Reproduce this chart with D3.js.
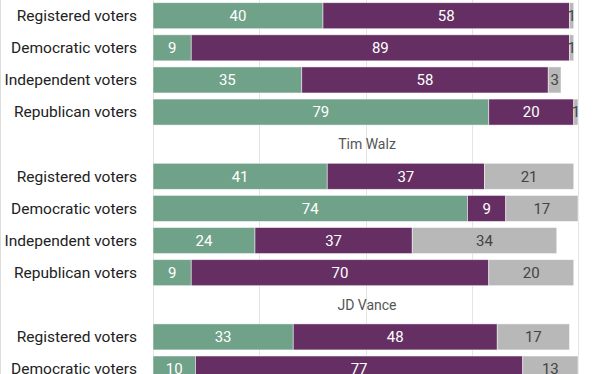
<!DOCTYPE html>
<html>
<head>
<meta charset="utf-8">
<script src="https://cdn.jsdelivr.net/npm/d3@7"></script>
<style>
  html, body { margin: 0; padding: 0; background: #fff; }
  svg { display: block; font-family: Roboto, "Noto Sans", sans-serif; }
</style>
</head>
<body>
<svg id="chart" width="612" height="374"></svg>
<script>
// voter groups, one row each inside a panel
const groups = ["Registered voters", "Democratic voters", "Independent voters", "Republican voters"];
// panel titles (the first one is cut off above the picture)
const panelTitles = ["", "Tim Walz", "JD Vance"];
// percent values, per panel, per group
const favorable = [[40, 9, 35, 79], [41, 74, 24, 9], [33, 10]];
const unfavorable = [[58, 89, 58, 20], [37, 9, 37, 70], [48, 77]];
const noOpinion = [[1, 1, 3, 1], [21, 17, 34, 20], [17, 13]];
const gridTicks = [0, 25, 50, 75, 100];

const colors = ["#6fa288", "#652f63", "#b8b8b8"];
const textColors = ["#fff", "#fff", "#444"];

const W = 612, H = 374;
const svg = d3.select("#chart");

// build the row list: a title slot then the groups of each panel
const rows = [];
panelTitles.forEach((t, p) => {
  rows.push({ key: "title" + p, title: t });
  favorable[p].forEach((f, g) => {
    rows.push({
      key: p + "-" + g,
      label: groups[g],
      values: [f, unfavorable[p][g], noOpinion[p][g]],
    });
  });
});

const step = 32.12;
const yStart = -32.47;
const x = d3.scaleLinear().domain([0, 100]).range([153, 578]);
const y = d3.scaleBand()
  .domain(rows.map((r) => r.key))
  .range([yStart, yStart + step * rows.length])
  .paddingInner(0.19)
  .paddingOuter(0.095);

// frame line at the left edge
svg.append("line")
  .attr("x1", 0.5).attr("x2", 0.5)
  .attr("y1", 0).attr("y2", H)
  .attr("stroke", "#ddd");

// gridlines
svg.append("g")
  .selectAll("line")
  .data(gridTicks)
  .join("line")
  .attr("x1", (d) => Math.round(x(d)) + 0.5)
  .attr("x2", (d) => Math.round(x(d)) + 0.5)
  .attr("y1", 0)
  .attr("y2", H)
  .attr("stroke", "#e4e4e4");

// panel titles
svg.append("g")
  .selectAll("text")
  .data(rows.filter((r) => r.title))
  .join("text")
  .attr("x", x(50) + 1.5)
  .attr("y", (r) => y(r.key) + y.bandwidth() / 2)
  .attr("dy", "0.35em")
  .attr("text-anchor", "middle")
  .attr("font-size", 14)
  .attr("fill", "#555")
  .text((r) => r.title);

const barRows = rows.filter((r) => r.values);

// group labels
svg.append("g")
  .selectAll("text")
  .data(barRows)
  .join("text")
  .attr("x", 137)
  .attr("y", (r) => y(r.key) + y.bandwidth() / 2)
  .attr("dy", "0.35em")
  .attr("text-anchor", "end")
  .attr("font-size", 15.5)
  .attr("fill", "#222")
  .text((r) => r.label);

// stacked segments
const segs = [];
barRows.forEach((r) => {
  let acc = 0;
  r.values.forEach((v, i) => {
    segs.push({ key: r.key, i, v, x0: acc, x1: acc + v });
    acc += v;
  });
});

svg.append("g")
  .selectAll("rect")
  .data(segs)
  .join("rect")
  .attr("x", (s) => x(s.x0))
  .attr("y", (s) => y(s.key))
  .attr("width", (s) => x(s.x1) - x(s.x0))
  .attr("height", y.bandwidth())
  .attr("fill", (s) => colors[s.i])
  .attr("stroke", "#fff")
  .attr("stroke-opacity", 0.6)
  .attr("stroke-width", 0.8);

svg.append("g")
  .selectAll("text")
  .data(segs)
  .join("text")
  .attr("x", (s) => (x(s.x0) + x(s.x1)) / 2)
  .attr("y", (s) => y(s.key) + y.bandwidth() / 2)
  .attr("dy", "0.36em")
  .attr("text-anchor", "middle")
  .attr("font-size", 15)
  .attr("fill", (s) => textColors[s.i])
  .text((s) => s.v);
</script>
</body>
</html>
